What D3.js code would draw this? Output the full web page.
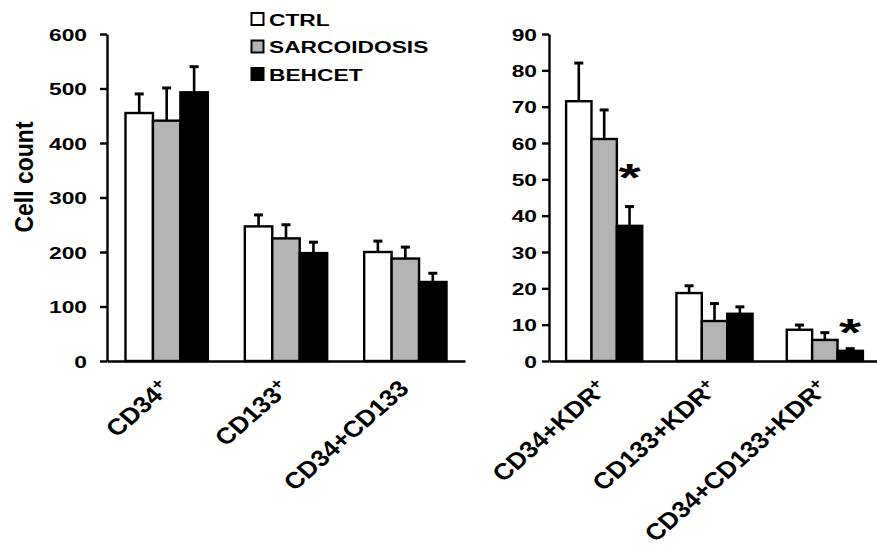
<!DOCTYPE html>
<html><head><meta charset="utf-8">
<script src="https://cdn.jsdelivr.net/npm/d3@7"></script>
<style>body{margin:0;background:#fff}svg{display:block}text{font-family:"Liberation Sans",Arial,sans-serif;font-weight:bold;fill:#000}</style>
</head><body>
<svg id="c" width="877" height="552"></svg>
<script>
const series = ["CTRL", "SARCOIDOSIS", "BEHCET"];
const categoriesLeft = ["CD34+", "CD133+", "CD34+CD133"];
const categoriesRight = ["CD34+KDR+", "CD133+KDR+", "CD34+CD133+KDR+"];
// per category: [CTRL, SARCOIDOSIS, BEHCET]
const meansLeft = [[455, 441, 493], [247, 225, 198], [200, 188, 145]];
const errLeft = [[35, 60, 47], [21, 25, 20], [20, 21, 16]];
const meansRight = [[71.5, 61.1, 37.2], [18.7, 11.0, 13.0], [8.6, 5.8, 2.8]];
const errRight = [[10.5, 8.0, 5.3], [2.0, 4.8, 1.9], [1.3, 2.0, 0.6]];
const ticksLeft = [0, 100, 200, 300, 400, 500, 600];
const ticksRight = [0, 10, 20, 30, 40, 50, 60, 70, 80, 90];
const starsRight = [{cat: "CD34+KDR+", series: "BEHCET", at: 52.7}, {cat: "CD34+CD133+KDR+", series: "BEHCET", at: 9.9}];
const yLabel = "Cell count";

const fills = d3.scaleOrdinal().domain(series).range(["#ffffff", "#b4b4b4", "#000000"]);
const svg = d3.select("#c");
const SX = 1.34;

function panel(cats, means, errs, ticks, xr, ymax, stars, labelOffset) {
  const y = d3.scaleLinear().domain([0, ymax]).range([361, 34]);
  const x0 = d3.scaleBand().domain(cats).range(xr).paddingInner(0.31).paddingOuter(0.155);
  const x1 = d3.scaleBand().domain(series).range([0, x0.bandwidth()]);
  const g = svg.append("g");
  // bars
  cats.forEach((c, ci) => {
    series.forEach((s, si) => {
      const v = means[ci][si], e = errs[ci][si];
      const bx = x0(c) + x1(s), bw = x1.bandwidth();
      const cx = bx + bw / 2;
      g.append("line").attr("x1", cx).attr("x2", cx).attr("y1", y(v)).attr("y2", y(v + e))
        .attr("stroke", "#000").attr("stroke-width", 2.6);
      g.append("line").attr("x1", cx - 4.5).attr("x2", cx + 4.5).attr("y1", y(v + e)).attr("y2", y(v + e))
        .attr("stroke", "#000").attr("stroke-width", 3);
      g.append("rect").attr("x", bx).attr("y", y(v)).attr("width", bw).attr("height", y(0) - y(v))
        .attr("fill", fills(s)).attr("stroke", "#000").attr("stroke-width", 2.4);
    });
  });
  // y axis
  const ya = g.append("g").attr("transform", `translate(${xr[0]},0)`)
    .call(d3.axisLeft(y).tickValues(ticks).tickSize(7).tickPadding(0).tickSizeOuter(0));
  ya.select(".domain").attr("stroke-width", 2.4);
  ya.selectAll(".tick line").attr("stroke-width", 2.4);
  ya.selectAll(".tick text").attr("x", null).attr("dy", null)
    .attr("transform", `translate(${labelOffset},6) scale(${SX},1)`).attr("font-size", 17)
    .attr("font-family", '"Liberation Sans",Arial,sans-serif').attr("font-weight", "bold");
  // x axis
  const xa = g.append("g").attr("transform", `translate(0,${y(0)})`)
    .call(d3.axisBottom(x0).tickSize(0).tickSizeOuter(0).tickFormat(""));
  xa.select(".domain").attr("stroke-width", 2.6);
  // category labels
  cats.forEach(c => {
    const cx = x0(c) + x0.bandwidth() / 2;
    const t = g.append("text").attr("text-anchor", "end").attr("font-size", 23)
      .attr("transform", `translate(${cx + 5},390) scale(1.14,1) rotate(-45)`);
    if (c.endsWith("+")) {
      t.append("tspan").text(c.slice(0, -1));
      t.append("tspan").attr("font-size", 16).attr("dy", -8).text("+");
    } else t.text(c);
  });
  // stars
  (stars || []).forEach(st => {
    const cx = x0(st.cat) + x1(st.series) + x1.bandwidth() / 2;
    g.append("text").attr("text-anchor", "middle").attr("font-size", 38).attr("font-weight", "normal")
      .attr("transform", `translate(${cx},${y(st.at) + 21}) scale(1.5,1)`).text("*");
  });
}

panel(categoriesLeft, meansLeft, errLeft, ticksLeft, [107, 465], 600, null, -20);
panel(categoriesRight, meansRight, errRight, ticksRight, [549, 880], 90, starsRight, -12);

// y label
svg.append("text").attr("text-anchor", "middle").attr("font-size", 23)
  .attr("transform", "translate(33,177) scale(1.15,1) rotate(-90)").text(yLabel);

// legend
const lg = svg.append("g");
series.forEach((s, i) => {
  const yy = 13 + i * 27.5;
  lg.append("rect").attr("x", 251.5).attr("y", yy).attr("width", 12).attr("height", 12)
    .attr("fill", fills(s)).attr("stroke", "#000").attr("stroke-width", 2);
  lg.append("text").attr("font-size", 17).attr("transform", `translate(269,${yy + 12.5}) scale(${SX},1)`).text(s);
});
</script>
</body></html>
